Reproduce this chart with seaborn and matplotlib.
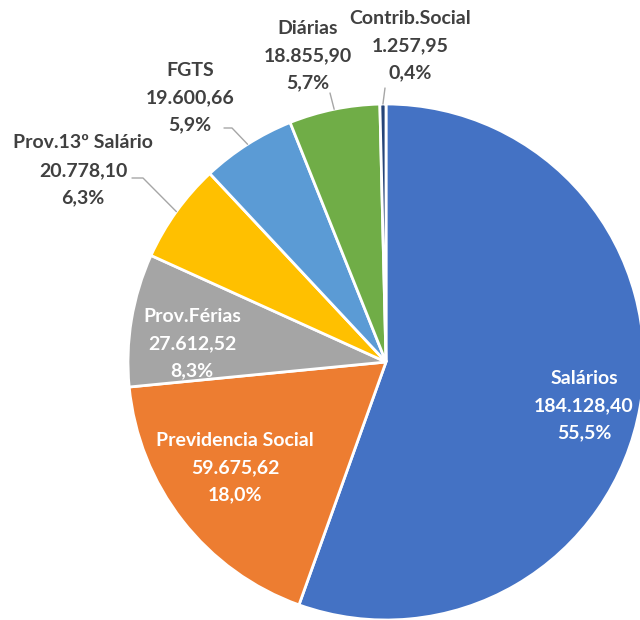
import numpy as np
import matplotlib
matplotlib.use('Agg')
import matplotlib.pyplot as plt
import seaborn as sns

# Dados do gráfico
categorias = ['Salários', 'Previdencia Social', 'Prov.Férias', 'Prov.13º Salário',
              'FGTS', 'Diárias', 'Contrib.Social']
valores = [184128.40, 59675.62, 27612.52, 20778.10, 19600.66, 18855.90, 1257.95]
cores = ['#4472C4', '#ED7D31', '#A5A5A5', '#FFC000', '#5B9BD5', '#70AD47', '#264478']

sns.set_theme(style='white')
plt.rcParams['font.family'] = ['Lato', 'DejaVu Sans']

W, H = 640, 620
fig = plt.figure(figsize=(W / 100, H / 100), dpi=100)
ax = fig.add_axes([0, 0, 1, 1])

centro = (386, H - 362)
raio = 258
wedges, _ = ax.pie(valores, colors=cores, startangle=90, counterclock=False,
                   center=centro, radius=raio,
                   wedgeprops=dict(edgecolor='white', linewidth=2))
ax.set_xlim(0, W)
ax.set_ylim(0, H)
ax.set_aspect('equal')
ax.axis('off')


def fmt_valor(v):
    s = f'{v:,.2f}'
    return s.replace(',', '#').replace('.', ',').replace('#', '.')


total = sum(valores)
# posição do rótulo (x, y da primeira linha em pixels), cor, cotovelo da linha guia
rotulos = {
    'Salários': ((584, 378), 'white', None),
    'Previdencia Social': ((235, 440), 'white', None),
    'Prov.Férias': ((192, 316), 'white', None),
    'Prov.13º Salário': ((83, 143), '#404040', [(132, 178), (143, 178)]),
    'FGTS': ((190, 70), '#404040', [(224, 128), (232, 128)]),
    'Diárias': ((308, 28), '#404040', [(330, 93)]),
    'Contrib.Social': ((410, 18), '#404040', [(385, 88)]),
}

passo = 27.5
for w, nome, v in zip(wedges, categorias, valores):
    (x0, y0), cor, guia = rotulos[nome]
    linhas = [nome, fmt_valor(v), f'{100 * v / total:.1f}%'.replace('.', ',')]
    for i, txt in enumerate(linhas):
        ax.text(x0, H - (y0 + i * passo), txt, ha='center', va='center',
                fontsize=14, fontweight='bold', color=cor)
    if guia:
        ang = np.deg2rad((w.theta1 + w.theta2) / 2)
        fim = (centro[0] + raio * np.cos(ang), centro[1] + raio * np.sin(ang))
        xs = [p[0] for p in guia] + [fim[0]]
        ys = [H - p[1] for p in guia] + [fim[1]]
        ax.plot(xs, ys, color='#A6A6A6', lw=1)

fig.savefig('out.png', dpi=100)
